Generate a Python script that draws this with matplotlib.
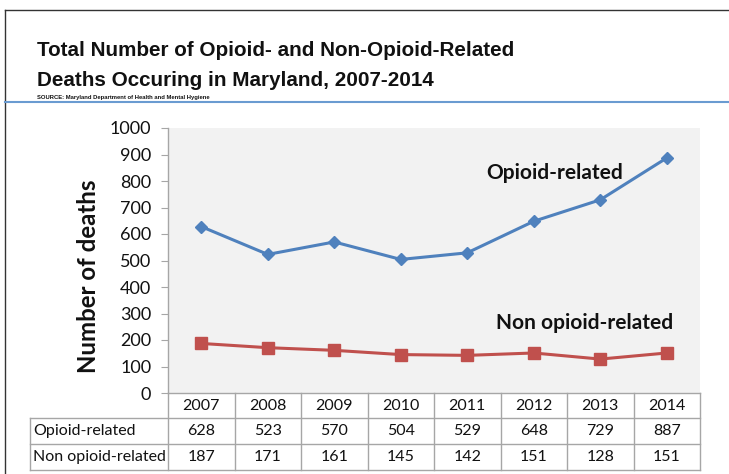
import matplotlib.pyplot as plt
from matplotlib.lines import Line2D

years = ["2007", "2008", "2009", "2010", "2011", "2012", "2013", "2014"]
opioid = [628, 523, 570, 504, 529, 648, 729, 887]
non_opioid = [187, 171, 161, 145, 142, 151, 128, 151]
row_labels = ["Opioid-related", "Non opioid-related"]
yticks = [0, 100, 200, 300, 400, 500, 600, 700, 800, 900, 1000]

BLUE = "#4F81BD"
RED = "#C0504D"
GRID = "#A6A6A6"
INK = "#111111"
BODY_FONT = ["Lato", "DejaVu Sans"]
TITLE_FONT = ["Liberation Sans", "DejaVu Sans"]

W, H = 729, 474
fig = plt.figure(figsize=(W / 100, H / 100), dpi=100)
fig.patch.set_facecolor("white")


def fx(px):
    return px / W


def fy(py):
    return 1 - py / H


def hline(x0, x1, y, **kw):
    fig.add_artist(Line2D([fx(x0), fx(x1)], [fy(y), fy(y)], **kw))


def vline(x, y0, y1, **kw):
    fig.add_artist(Line2D([fx(x), fx(x)], [fy(y0), fy(y1)], **kw))


# outer frame (top and left edges)
hline(5, W, 10, color="#333333", lw=1.0)
vline(5, 10, H, color="#333333", lw=1.0)

# title block
fig.text(fx(37), fy(56), "Total Number of Opioid- and Non-Opioid-Related",
         fontsize=14.9, fontweight="bold", family=TITLE_FONT, color=INK)
fig.text(fx(37), fy(86), "Deaths Occuring in Maryland, 2007-2014",
         fontsize=14.9, fontweight="bold", family=TITLE_FONT, color=INK)
fig.text(fx(37), fy(99), "SOURCE: Maryland Department of Health and Mental Hygiene",
         fontsize=4.2, fontweight="bold", family=TITLE_FONT, color=INK)
hline(5, W, 102, color="#6A9BD1", lw=1.5)

# chart area
left, right, top, bottom = 168, 700, 128, 393
ax = fig.add_axes([fx(left), fy(bottom), (right - left) / W, (bottom - top) / H])
ax.set_facecolor("#F2F2F2")

x = list(range(len(years)))
ax.plot(x, opioid, color=BLUE, lw=2.2, marker="D", ms=6, zorder=3)
ax.plot(x, non_opioid, color=RED, lw=2.2, marker="s", ms=8, zorder=3)

ax.set_xlim(-0.5, len(years) - 0.5)
ax.set_ylim(0, 1000)
ax.set_yticks(yticks)
ax.set_xticks([])
for lab in ax.get_yticklabels():
    lab.set_family(BODY_FONT)
ax.tick_params(axis="y", labelsize=13, length=5, color=GRID, pad=7, labelcolor=INK)
for side in ("top", "right", "bottom"):
    ax.spines[side].set_visible(False)
ax.spines["left"].set_color(GRID)
ax.spines["left"].set_linewidth(1.0)

# axis title
fig.text(fx(88), fy(276), "Number of deaths", rotation=90, ha="center", va="center",
         fontsize=17.3, fontweight="bold", family=BODY_FONT, color=INK)

# series labels
fig.text(fx(555), fy(173), "Opioid-related", ha="center", va="center",
         fontsize=15, fontweight="bold", family=BODY_FONT, color=INK)
fig.text(fx(585), fy(323), "Non opioid-related", ha="center", va="center",
         fontsize=15, fontweight="bold", family=BODY_FONT, color=INK)

# data table under the chart
table_left = 30
row_edges = [393, 418, 444, 470]
col_w = (right - left) / len(years)
lw_tab = 1.0

hline(left, right, row_edges[0], color=GRID, lw=lw_tab)
for y in row_edges[1:]:
    hline(table_left, right, y, color=GRID, lw=lw_tab)
vline(table_left, row_edges[1], row_edges[-1], color=GRID, lw=lw_tab)
for k in range(len(years) + 1):
    vline(left + k * col_w, row_edges[0], row_edges[-1], color=GRID, lw=lw_tab)

rows = [years, [str(v) for v in opioid], [str(v) for v in non_opioid]]
for r, values in enumerate(rows):
    yc = (row_edges[r] + row_edges[r + 1]) / 2
    for k, v in enumerate(values):
        fig.text(fx(left + (k + 0.5) * col_w), fy(yc), v, ha="center", va="center",
                 fontsize=11.5, family=BODY_FONT, color=INK)
for r, lab in enumerate(row_labels, start=1):
    yc = (row_edges[r] + row_edges[r + 1]) / 2
    fig.text(fx(table_left + 3), fy(yc), lab, ha="left", va="center",
             fontsize=11.5, family=BODY_FONT, color=INK)

fig.savefig("out.png", dpi=100, facecolor="white")
